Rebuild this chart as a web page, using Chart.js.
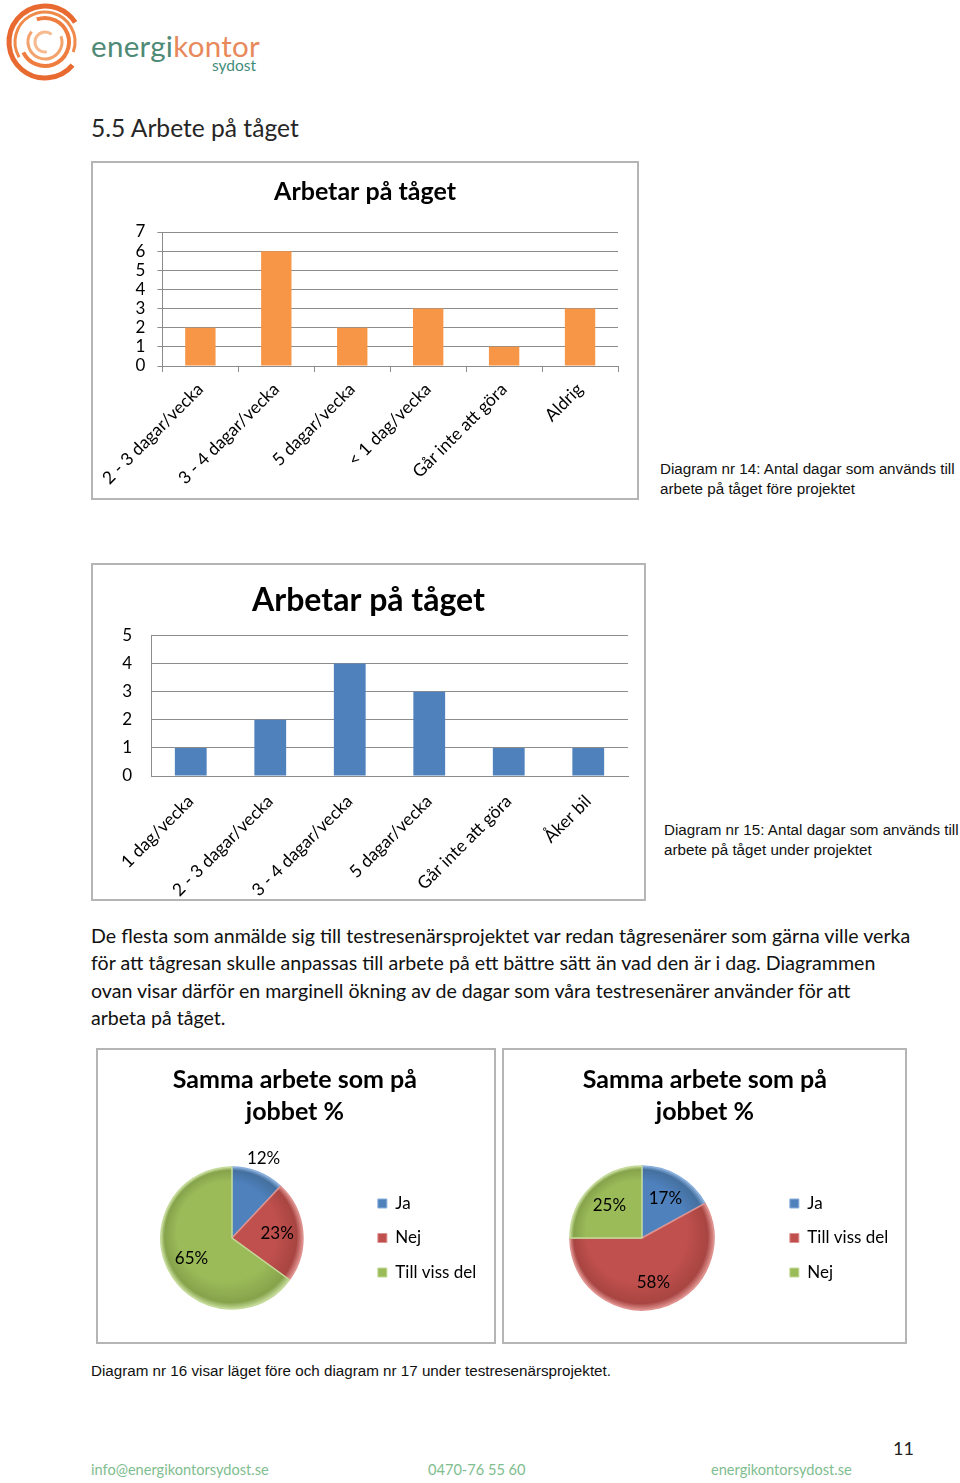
<!DOCTYPE html>
<html lang="sv">
<head>
<meta charset="utf-8">
<title>5.5 Arbete på tåget</title>
<script src="https://cdn.jsdelivr.net/npm/chart.js@4.4.1/dist/chart.umd.min.js"></script>
<style>
  html, body { margin: 0; padding: 0; background: #fff; }
  body { width: 960px; height: 1483px; position: relative; overflow: hidden; font-family: Lato, "Open Sans", sans-serif; color: #000; }
  .abs { position: absolute; }
  .box { position: absolute; box-sizing: border-box; border: 2px solid #b5b5b5; background: #fff; }
  .box canvas { display: block; }
  .cap { position: absolute; font-family: "Liberation Sans", Arial, sans-serif; font-size: 15.2px; line-height: 20px; color: #111; white-space: nowrap; }
  .para { position: absolute; left: 91px; top: 922px; font-family: Lato, sans-serif; font-size: 19.6px; line-height: 27.4px; color: #111; white-space: nowrap; }
  .foot { position: absolute; top: 1460px; font-family: Lato, sans-serif; font-size: 14.6px; line-height: 20px; color: #80bd8f; white-space: nowrap; }
</style>
</head>
<body>

<!-- logo -->
<svg class="abs" style="left:0;top:0" width="92" height="88" viewBox="0 0 92 88">
  <circle cx="45" cy="42" r="36" fill="none" stroke="#e86a30" stroke-width="5" stroke-dasharray="180 46" transform="rotate(40 45 42)"/>
  <circle cx="45" cy="42" r="30" fill="none" stroke="#f08a4b" stroke-width="3" stroke-dasharray="120 68" transform="rotate(150 45 42)"/>
  <circle cx="45" cy="42" r="24" fill="none" stroke="#ef7d3f" stroke-width="4" stroke-dasharray="110 41" transform="rotate(250 45 42)"/>
  <circle cx="45" cy="42" r="17" fill="none" stroke="#f4a26c" stroke-width="3" stroke-dasharray="70 37" transform="rotate(340 45 42)"/>
  <circle cx="45" cy="42" r="10" fill="none" stroke="#f7b98e" stroke-width="3" stroke-dasharray="40 23" transform="rotate(80 45 42)"/>
</svg>
<div class="abs" style="left:91px;top:29px;font-family:Lato,sans-serif;font-size:29.5px;line-height:34px;letter-spacing:0.3px;white-space:nowrap"><span style="color:#4f8a76">energi</span><span style="color:#e8895b">kontor</span></div>
<div class="abs" style="left:212px;top:56px;font-family:Lato,sans-serif;font-size:15.5px;line-height:18px;color:#3f8c7a">sydost</div>

<div class="abs" style="left:91px;top:113px;font-family:Lato,sans-serif;font-size:24.6px;line-height:30px;color:#262626;white-space:nowrap">5.5 Arbete på tåget</div>

<div class="box" style="left:91px;top:161px;width:548px;height:339px"><canvas id="bar1" width="544" height="335"></canvas></div>
<div class="cap" style="left:660px;top:459px">Diagram nr 14: Antal dagar som används till<br>arbete på tåget före projektet</div>

<div class="box" style="left:91px;top:563px;width:555px;height:338px"><canvas id="bar2" width="551" height="334"></canvas></div>
<div class="cap" style="left:664px;top:820px">Diagram nr 15: Antal dagar som används till<br>arbete på tåget under projektet</div>

<div class="para">De flesta som anmälde sig till testresenärsprojektet var redan tågresenärer som gärna ville verka<br>för att tågresan skulle anpassas till arbete på ett bättre sätt än vad den är i dag. Diagrammen<br>ovan visar därför en marginell ökning av de dagar som våra testresenärer använder för att<br>arbeta på tåget.</div>

<div class="box" style="left:96px;top:1048px;width:400px;height:296px"><canvas id="pie1" width="396" height="292"></canvas></div>
<div class="box" style="left:502px;top:1048px;width:405px;height:296px"><canvas id="pie2" width="401" height="292"></canvas></div>

<div class="cap" style="left:91px;top:1361px">Diagram nr 16 visar läget före och diagram nr 17 under testresenärsprojektet.</div>

<div class="abs" style="left:893px;top:1437px;font-family:Lato,sans-serif;font-size:18px;line-height:22px;color:#222">11</div>
<div class="foot" style="left:91px">info@energikontorsydost.se</div>
<div class="foot" style="left:428px">0470-76 55 60</div>
<div class="foot" style="left:711px">energikontorsydost.se</div>

<script>
// ---------- data ----------
const bar1Categories = ['2 - 3 dagar/vecka', '3 - 4 dagar/vecka', '5 dagar/vecka', '< 1 dag/vecka', 'Går inte att göra', 'Aldrig'];
const bar1Values = [2, 6, 2, 3, 1, 3];
const bar1Title = 'Arbetar på tåget';
const bar1YMax = 7;

const bar2Categories = ['1 dag/vecka', '2 - 3 dagar/vecka', '3 - 4 dagar/vecka', '5 dagar/vecka', 'Går inte att göra', 'Åker bil'];
const bar2Values = [1, 2, 4, 3, 1, 1];
const bar2Title = 'Arbetar på tåget';
const bar2YMax = 5;

const pieTitle = ['Samma arbete som på', 'jobbet %'];
const pie1Labels = ['Ja', 'Nej', 'Till viss del'];
const pie1Values = [12, 23, 65];
const pie2Labels = ['Ja', 'Till viss del', 'Nej'];
const pie2Values = [17, 58, 25];

// ---------- styles ----------
const FONT = 'Lato, "Open Sans", sans-serif';
const GRID = '#8c8c8c';
const PIE_FILL = ['#4f81bd', '#c0504d', '#9bbb59'];
const PIE_DARK = ['#44709f', '#a84542', '#86a34b'];
const PIE_EDGE = ['#8aafdc', '#df918e', '#c4da98'];

Chart.defaults.font.family = FONT;
Chart.defaults.color = '#000';
Chart.defaults.animation = false;

const pctLabelPlugin = {
  id: 'pctLabels',
  afterDatasetsDraw(chart) {
    const ctx = chart.ctx;
    const meta = chart.getDatasetMeta(0);
    const data = chart.data.datasets[0].data;
    const total = data.reduce((a, b) => a + b, 0);
    ctx.save();
    ctx.font = '17px ' + FONT;
    ctx.fillStyle = '#000';
    ctx.textAlign = 'center';
    ctx.textBaseline = 'middle';
    meta.data.forEach((arc, i) => {
      const p = arc.getProps(['x', 'y', 'startAngle', 'endAngle', 'outerRadius'], true);
      const mid = (p.startAngle + p.endAngle) / 2;
      const pct = data[i] / total * 100;
      const k = pct < 15 ? 1.21 : 0.64;
      ctx.fillText(Math.round(pct) + '%', p.x + Math.cos(mid) * p.outerRadius * k, p.y + Math.sin(mid) * p.outerRadius * k);
    });
    ctx.restore();
  }
};

// soft 3D-like shading of the slices (radial gradient around the pie centre)
function sliceFill(c) {
  const i = c.dataIndex;
  const chart = c.chart;
  const a = chart.chartArea;
  if (!a || i === undefined) return PIE_FILL[i || 0];
  const cx = (a.left + a.right) / 2, cy = (a.top + a.bottom) / 2;
  const r = c.dataset.radius;
  const g = chart.ctx.createRadialGradient(cx - r * 0.25, cy - r * 0.3, 0, cx, cy, r);
  g.addColorStop(0, PIE_FILL[i]);
  g.addColorStop(0.7, PIE_FILL[i]);
  g.addColorStop(0.93, PIE_DARK[i]);
  g.addColorStop(1, PIE_EDGE[i]);
  return g;
}

function barChart(id, cats, vals, title, yMax, color, opt) {
  return new Chart(document.getElementById(id), {
    type: 'bar',
    data: { labels: cats, datasets: [{ data: vals, backgroundColor: color, barPercentage: 0.4, categoryPercentage: 1 }] },
    options: {
      responsive: false,
      layout: { padding: { left: opt.pad, right: opt.pad, top: 0, bottom: 0 } },
      plugins: {
        legend: { display: false },
        tooltip: { enabled: false },
        title: { display: true, text: title, color: '#000', font: { family: FONT, size: opt.titleSize, weight: 'bold', lineHeight: 1.2 }, padding: { top: opt.titleTop, bottom: opt.titleBottom } }
      },
      scales: {
        x: {
          grid: { drawOnChartArea: false, drawTicks: opt.xTicks, tickLength: 6, color: GRID },
          border: { color: GRID },
          ticks: { autoSkip: false, minRotation: 45, maxRotation: 45, color: '#000', font: { family: FONT, size: 17.5 }, padding: opt.xPad },
          afterFit: s => { s.height = opt.xHeight; }
        },
        y: {
          min: 0, max: yMax,
          grid: { color: GRID, drawTicks: opt.yTicks, tickLength: 5 },
          border: { color: GRID },
          ticks: { stepSize: 1, autoSkip: false, color: '#000', font: { family: FONT, size: 17 }, padding: opt.yPad },
          afterFit: s => { s.width = opt.yWidth; }
        }
      }
    }
  });
}

function pieChart(id, labels, vals, radius, pad) {
  return new Chart(document.getElementById(id), {
    type: 'pie',
    data: { labels: labels, datasets: [{ data: vals, backgroundColor: sliceFill, borderColor: PIE_EDGE, borderWidth: 1.5, radius: radius }] },
    options: {
      responsive: false,
      layout: { padding: pad },
      plugins: {
        tooltip: { enabled: false },
        title: { display: true, text: pieTitle, color: '#000', font: { family: FONT, size: 25, weight: 'bold', lineHeight: 1.28 }, padding: { top: 14, bottom: 12 } },
        legend: {
          position: 'right', fullSize: false,
          labels: {
            boxWidth: 9, boxHeight: 9, padding: 17.5, color: '#000', font: { family: FONT, size: 17 },
            generateLabels: chart => Chart.overrides.pie.plugins.legend.labels.generateLabels(chart).map((l, i) =>
              Object.assign(l, { fillStyle: PIE_FILL[i], strokeStyle: PIE_EDGE[i], lineWidth: 1 }))
          }
        }
      }
    },
    plugins: [pctLabelPlugin]
  });
}

function build() {
  const charts = [];
  charts.push(barChart('bar1', bar1Categories, bar1Values, bar1Title, bar1YMax, '#f79646',
    { pad: 19, titleSize: 25, titleTop: 14, titleBottom: 25, xTicks: true, xPad: 7, xHeight: 132, yTicks: true, yPad: 12, yWidth: 48 }));
  charts.push(barChart('bar2', bar2Categories, bar2Values, bar2Title, bar2YMax, '#4f81bd',
    { pad: 16, titleSize: 32, titleTop: 16, titleBottom: 16, xTicks: false, xPad: 15, xHeight: 123, yTicks: false, yPad: 19, yWidth: 42 }));
  charts.push(pieChart('pie1', pie1Labels, pie1Values, 71, { left: 5.5, right: 7.75, top: 0, bottom: 6 }));
  charts.push(pieChart('pie2', pie2Labels, pie2Values, 72, { left: 7.5, right: 6.75, top: 0, bottom: 6 }));
  return charts;
}

let charts = build();
if (document.fonts && document.fonts.load) {
  Promise.all([document.fonts.load('16px Lato'), document.fonts.load('bold 24px Lato')]).then(() => {
    charts.forEach(c => c.destroy());
    charts = build();
  });
}
</script>
</body>
</html>
